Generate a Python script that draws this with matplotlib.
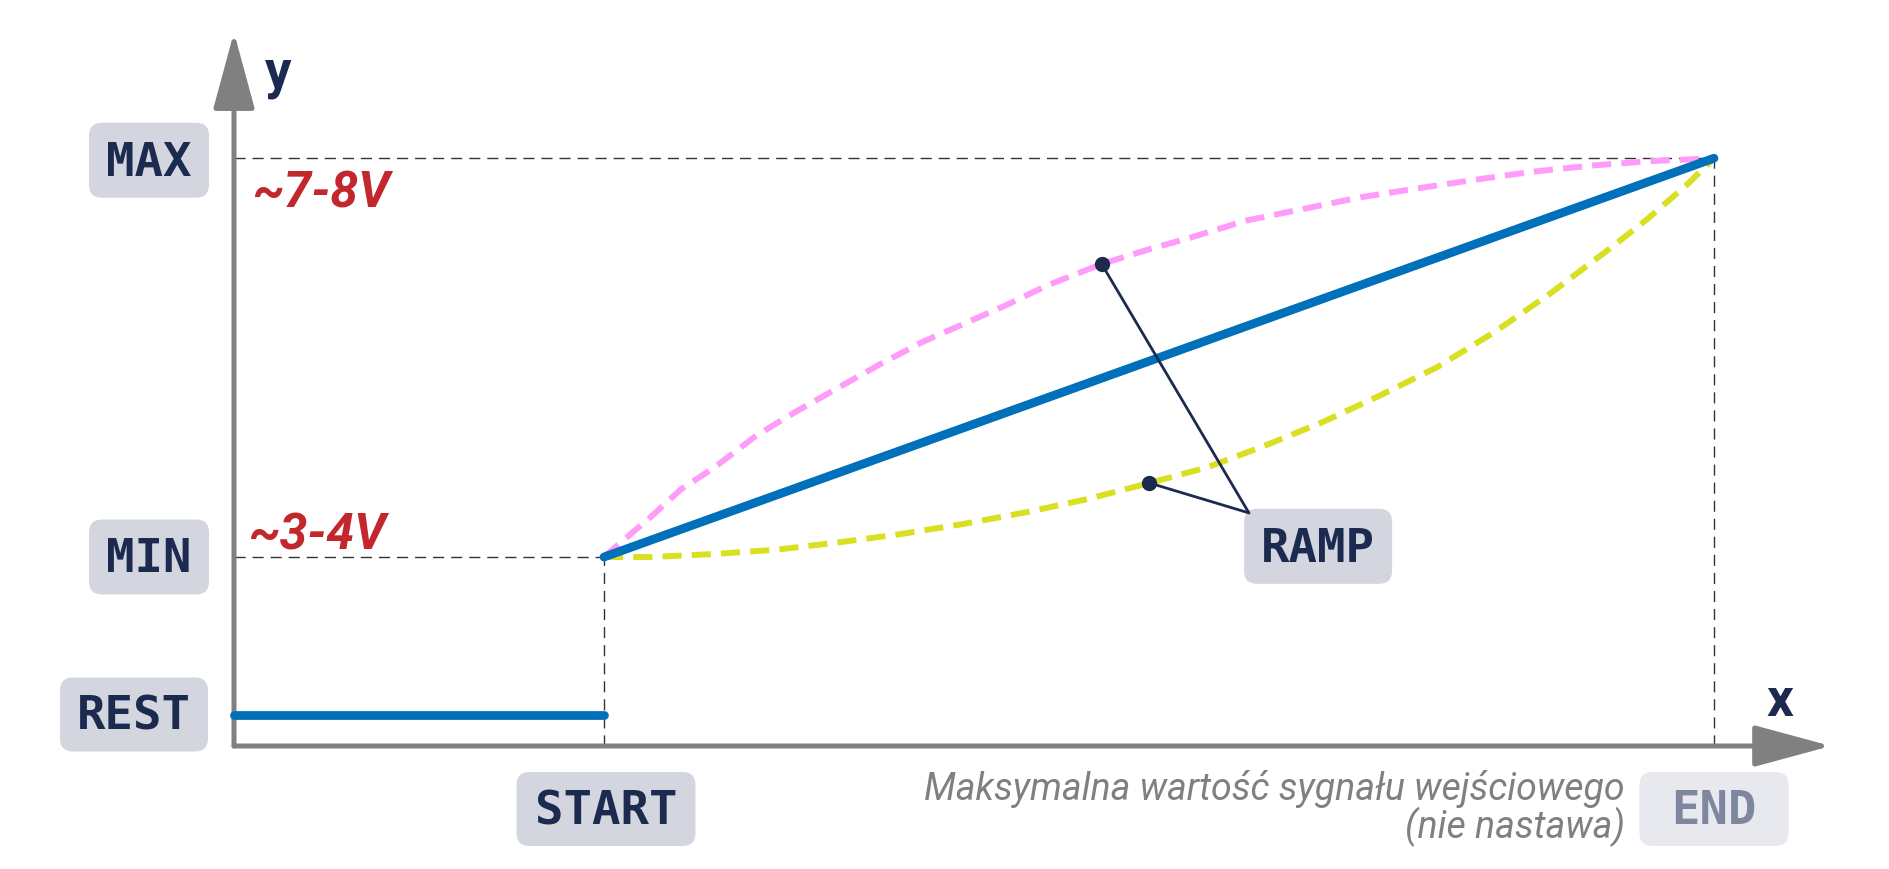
import matplotlib
matplotlib.use("Agg")
import matplotlib.pyplot as plt
import matplotlib.transforms as mtransforms
from matplotlib.patches import FancyBboxPatch

# poziomy (jednostki umowne)
REST = 0.5
MIN = 3.0
MAX = 9.33
START = 1.0
END = 4.0

# liniowa rampa + spoczynek
rest_x = [0.0, START]
rest_y = [REST, REST]
ramp_x = [START, END]
ramp_y = [MIN, MAX]

# krzywa wypukła (różowa) - punkty
pink_x = [1.0, 1.130, 1.209, 1.299, 1.411, 1.523, 1.635, 1.747, 1.859, 1.971,
          2.084, 2.196, 2.345, 2.476, 2.588, 2.734, 2.889, 3.045, 3.200, 3.355,
          3.510, 3.665, 3.820, 4.0]
pink_y = [3.0, 3.656, 4.079, 4.424, 4.925, 5.322, 5.693, 6.063, 6.408, 6.698,
          6.989, 7.306, 7.651, 7.889, 8.075, 8.338, 8.524, 8.710, 8.852, 8.989,
          9.116, 9.211, 9.281, 9.33]

# krzywa wklęsła (żółta)
yellow_x = [1.0, 1.130, 1.299, 1.467, 1.635, 1.803, 1.971, 2.140, 2.308, 2.474,
            2.631, 2.786, 2.941, 3.096, 3.251, 3.406, 3.562, 3.717, 3.820, 3.924,
            3.975, 4.0]
yellow_y = [3.0, 3.0, 3.048, 3.116, 3.233, 3.365, 3.524, 3.709, 3.921, 4.175,
            4.424, 4.767, 5.138, 5.560, 6.011, 6.567, 7.202, 7.889, 8.365, 8.894,
            9.186, 9.33]

# punkty wskazywane przez etykietę RAMP
ramp_dots_x = [2.345, 2.474]
ramp_dots_y = [7.651, 4.175]

NAVY = "#1b2a4e"
GRAY = "#808080"
BOX = "#d3d6de"

fig = plt.figure(figsize=(18.9, 8.7), dpi=100)
ax = fig.add_axes([0, 0, 1, 1])
ax.set_xlim(-234 / 370, (1890 - 234) / 370)
ax.set_ylim(-(870 - 747) / 63, 747 / 63)
ax.axis("off")


def off(x, y):
    # przesunięcie w pikselach względem punktu danych
    return fig.dpi_scale_trans + mtransforms.ScaledTranslation(x, y, ax.transData)


def tag(x, y, s, w, h, dx=0, dy=0, face=BOX, color=NAVY):
    tr = off(x, y)
    p = FancyBboxPatch(((dx - w / 2) / 100, (dy - h / 2) / 100), w / 100, h / 100,
                       boxstyle="round,pad=0,rounding_size=0.13",
                       fc=face, ec="none", transform=tr, clip_on=False, zorder=5)
    ax.add_patch(p)
    ax.text(dx / 100, (dy - 2) / 100, s, transform=tr, ha="center", va="center",
            family="DejaVu Sans Mono", weight="bold", fontsize=34, color=color, zorder=6)


# linie pomocnicze
guide = dict(color="#333333", lw=1.0, ls=(0, (8, 5)), zorder=1)
ax.plot([0, END], [MAX, MAX], **guide)
ax.plot([END, END], [0, MAX], **guide)
ax.plot([0, START], [MIN, MIN], **guide)
ax.plot([START, START], [0, MIN], **guide)

# osie ze strzałkami
arrow = dict(arrowstyle="-|>,head_length=4.8,head_width=1.3", color=GRAY, lw=3.6,
             mutation_scale=10, shrinkA=0, shrinkB=0)
ax.annotate("", xy=(4.316, 0), xytext=(0, 0), arrowprops=arrow, zorder=2)
ax.annotate("", xy=(0, 11.33), xytext=(0, 0), arrowprops=arrow, zorder=2)

# krzywe
ax.plot(pink_x, pink_y, color="#ff9cf9", lw=4.3, dashes=(3.2, 1.7), zorder=3)
ax.plot(yellow_x, yellow_y, color="#d9e021", lw=4.3, dashes=(3.2, 1.7), zorder=3)
ax.plot(rest_x, rest_y, color="#0070bb", lw=6.3, solid_capstyle="round", zorder=4)
ax.plot(ramp_x, ramp_y, color="#0070bb", lw=6.3, solid_capstyle="round", zorder=4)

# etykieta RAMP z odnośnikami
ramp_lx, ramp_ly = 2.93, 3.17
join = (2.743, 3.70)
for px, py in zip(ramp_dots_x, ramp_dots_y):
    ax.annotate("", xy=(px, py), xytext=join,
                arrowprops=dict(arrowstyle="-", color=NAVY, lw=2.0, shrinkA=0, shrinkB=0),
                zorder=7)
ax.plot(ramp_dots_x, ramp_dots_y, "o", color=NAVY, ms=10, zorder=8)

# etykiety poziomów
tag(0, MAX, "MAX", 120, 75, dx=-85, dy=-2)
tag(0, MIN, "MIN", 120, 75, dx=-85, dy=0)
tag(0, REST, "REST", 148, 74, dx=-100, dy=0)
tag(START, 0, "START", 179, 74, dx=2, dy=-63)
tag(END, 0, "END", 149, 74, dx=0, dy=-63, face="#e8e9ee", color="#7f879e")
tag(ramp_lx, ramp_ly, "RAMP", 148, 75)

# napięcia
red = dict(family=["Roboto", "DejaVu Sans"], style="italic", weight="bold",
           fontsize=36, color="#c1272d", ha="left", va="baseline")
ax.text(18 / 100, -48 / 100, "~7-8V", transform=off(0, MAX), **red)
ax.text(14 / 100, 8 / 100, "~3-4V", transform=off(0, MIN), **red)

# nazwy osi
axl = dict(family=["Roboto", "DejaVu Sans"], weight="bold", fontsize=38,
           color=NAVY, ha="left", va="baseline")
ax.text(31 / 100, 659 / 100, "y", transform=off(0, 0), **axl)
ax.text(52 / 100, 31 / 100, "x", transform=off(END, 0), **axl)

# opis END (jeden tekst w dwóch wierszach)
ax.text(-89 / 100, -91 / 100, "Maksymalna wartość sygnału wejściowego\n(nie nastawa)",
        transform=off(END, 0), family=["Roboto", "DejaVu Sans"], style="italic",
        fontsize=27, color="#808080", ha="right", va="baseline",
        multialignment="right", linespacing=0.95)

fig.savefig("out.png", dpi=100)
